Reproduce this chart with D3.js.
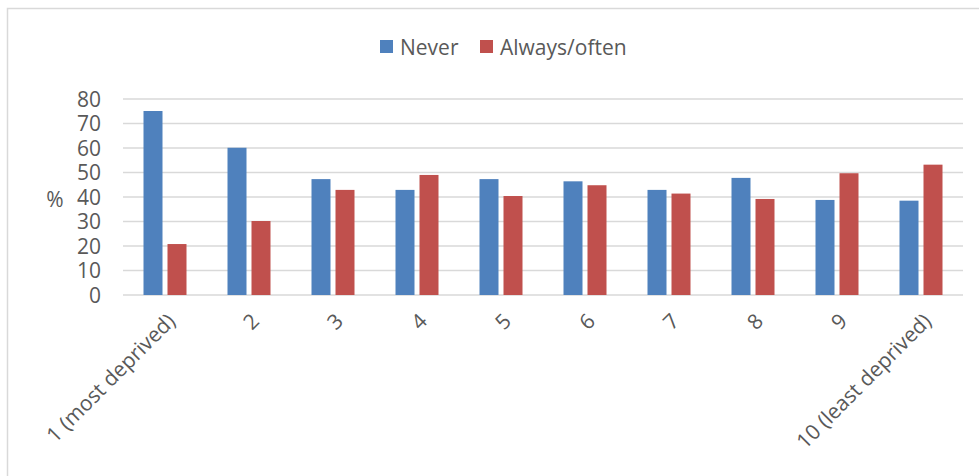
<!DOCTYPE html>
<html>
<head>
<meta charset="utf-8">
<script src="https://cdn.jsdelivr.net/npm/d3@7"></script>
<style>
  body { margin: 0; background: #fff; }
  text { font-family: "Open Sans", sans-serif; fill: #595959; }
</style>
</head>
<body>
<div id="chart"></div>
<script>
// data
const categories = ["1 (most deprived)", "2", "3", "4", "5", "6", "7", "8", "9", "10 (least deprived)"];
const series = ["Never", "Always/often"];
const never = [75.1, 60.1, 47.3, 42.9, 47.3, 46.4, 42.9, 47.8, 38.8, 38.5];
const alwaysOften = [20.8, 30.2, 42.9, 49.0, 40.4, 44.8, 41.4, 39.2, 49.7, 53.2];
const yTicks = [0, 10, 20, 30, 40, 50, 60, 70, 80];
const colors = ["#4f81bd", "#c0504d"];

const width = 979, height = 476;
const plot = { left: 123, right: 963, top: 99, bottom: 295 };

const svg = d3.select("#chart").append("svg")
    .attr("width", width)
    .attr("height", height);

// chart frame (top and left edges only visible)
svg.append("path")
    .attr("d", `M7.5,${height} V8.5 H${width}`)
    .attr("fill", "none")
    .attr("stroke", "#d9d9d9")
    .attr("stroke-width", 1.5);

const x0 = d3.scaleBand()
    .domain(categories)
    .range([plot.left, plot.right]);

const y = d3.scaleLinear()
    .domain([0, 80])
    .range([plot.bottom, plot.top]);

// gridlines
svg.append("g")
    .selectAll("line")
    .data(yTicks)
    .join("line")
    .attr("x1", plot.left)
    .attr("x2", plot.right)
    .attr("y1", d => y(d))
    .attr("y2", d => y(d))
    .attr("stroke", "#d9d9d9")
    .attr("stroke-width", 1.5);

// y tick labels
svg.append("g")
    .selectAll("text")
    .data(yTicks)
    .join("text")
    .attr("x", 101)
    .attr("y", d => y(d))
    .attr("dy", "0.36em")
    .attr("text-anchor", "end")
    .style("font-size", "21px")
    .text(d => d);

svg.append("text")
    .attr("x", 55)
    .attr("y", 199)
    .attr("dy", "0.36em")
    .attr("text-anchor", "middle")
    .style("font-size", "21px")
    .text("%");

// bars
const groupW = 43;
const rows = categories.map((c, i) => ({ cat: c, values: [never[i], alwaysOften[i]] }));

const groups = svg.append("g")
    .selectAll("g")
    .data(rows)
    .join("g")
    .attr("transform", d => `translate(${x0(d.cat) + x0.bandwidth() / 2 - groupW / 2},0)`);

const x1 = d3.scaleBand()
    .domain(series)
    .range([0, groupW])
    .paddingInner(5 / 24);

groups.selectAll("rect")
    .data(d => d.values.map((v, k) => ({ key: series[k], v, k })))
    .join("rect")
    .attr("x", d => x1(d.key))
    .attr("width", x1.bandwidth())
    .attr("y", d => y(d.v))
    .attr("height", d => y(0) - y(d.v))
    .attr("fill", d => colors[d.k]);

// x labels, rotated
svg.append("g")
    .selectAll("text")
    .data(categories)
    .join("text")
    .attr("transform", d => `translate(${x0(d) + x0.bandwidth() / 2 + 1},${312}) rotate(-45)`)
    .attr("dy", "0.71em")
    .attr("text-anchor", "end")
    .style("font-size", "21px")
    .text(d => d);

// legend
const legend = svg.append("g");
const legendItems = [
    { name: series[0], color: colors[0], x: 380 },
    { name: series[1], color: colors[1], x: 480 }
];
legend.selectAll("rect")
    .data(legendItems)
    .join("rect")
    .attr("x", d => d.x)
    .attr("y", 40)
    .attr("width", 13)
    .attr("height", 13)
    .attr("fill", d => d.color);
legend.selectAll("text")
    .data(legendItems)
    .join("text")
    .attr("x", d => d.x + 20)
    .attr("y", 47)
    .attr("dy", "0.36em")
    .style("font-size", "21px")
    .text(d => d.name);
</script>
</body>
</html>
